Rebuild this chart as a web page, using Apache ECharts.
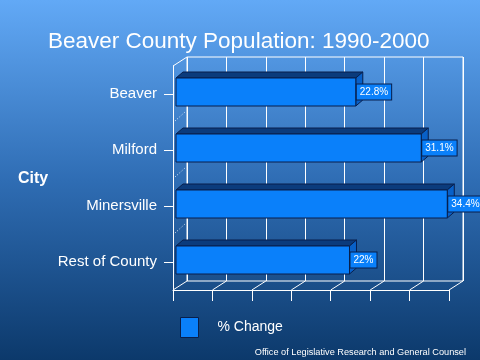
<!DOCTYPE html>
<html>
<head>
<meta charset="utf-8">
<script src="https://cdn.jsdelivr.net/npm/echarts@6/dist/echarts.min.js"></script>
<style>
  html, body { margin: 0; padding: 0; }
  #chart { width: 480px; height: 360px; }
</style>
</head>
<body>
<div id="chart"></div>
<script>
// data
let cities = ['Beaver', 'Milford', 'Minersville', 'Rest of County'];
let changes = [22.8, 31.1, 34.4, 22];
let ticks = [0, 5, 10, 15, 20, 25, 30, 35];

// 3d look
let depth = [14, -9]; // front -> back wall
let barDepth = [7, -6];
let font = "'Liberation Sans', Arial, sans-serif";

let chart = echarts.init(document.getElementById('chart'));

// bar with top + side faces and a boxed label
function renderBar(params, api) {
    let i = api.value(1);
    let v = api.value(0);
    let start = api.coord([0, i]);
    let end = api.coord([v, i]);
    let h = api.size([0, 1])[1] * 0.5;
    let yc = end[1] - 2; // bars sit a bit above the tick
    let x0 = start[0] + 3, x1 = end[0] + 3;
    let y0 = yc - h / 2, y1 = yc + h / 2;
    let dx = barDepth[0], dy = barDepth[1];
    let edge = '#081f4c';
    return {
        type: 'group',
        children: [
            {
                type: 'polygon',
                shape: { points: [[x0, y0], [x1, y0], [x1 + dx, y0 + dy], [x0 + dx, y0 + dy]] },
                style: { fill: '#0b3b7c', stroke: edge, lineWidth: 1 }
            },
            {
                type: 'polygon',
                shape: { points: [[x1, y0], [x1 + dx, y0 + dy], [x1 + dx, y1 + dy], [x1, y1]] },
                style: { fill: '#0860c8', stroke: edge, lineWidth: 1 }
            },
            {
                type: 'rect',
                shape: { x: x0, y: y0, width: x1 - x0, height: y1 - y0 },
                style: { fill: '#0a80fa', stroke: edge, lineWidth: 1 }
            },
            {
                type: 'text',
                style: {
                    text: v + '%',
                    x: x1 + 1,
                    y: yc,
                    align: 'left',
                    verticalAlign: 'middle',
                    fill: '#fff',
                    fontSize: 10,
                    fontFamily: font,
                    backgroundColor: '#0a80fa',
                    borderColor: edge,
                    borderWidth: 1,
                    padding: [3, 3, 2, 3]
                }
            }
        ]
    };
}

// floor lines from the front ticks to the back wall
function renderFloor(params, api) {
    let v = api.value(0);
    let p = api.coord([v, cities.length - 1]);
    let y = p[1] + api.size([0, 1])[1] / 2;
    return {
        type: 'line',
        shape: { x1: p[0], y1: y, x2: p[0] + depth[0], y2: y + depth[1] },
        style: { stroke: '#fff', lineWidth: 1 }
    };
}

// left wall: top edge and dotted dividers between categories
function renderWall(params, api) {
    let i = api.value(0);
    let p = api.coord([0, i]);
    let y = p[1] - api.size([0, 1])[1] / 2;
    if (i === 0) {
        return {
            type: 'line',
            shape: { x1: p[0], y1: y, x2: p[0] + depth[0], y2: y + depth[1] },
            style: { stroke: '#fff', lineWidth: 1 }
        };
    }
    return {
        type: 'line',
        shape: { x1: p[0] + 2, y1: y - 1, x2: p[0] + 12, y2: y - 10 },
        style: { stroke: '#fff', lineWidth: 1, lineDash: [1, 2], opacity: 0.85 }
    };
}

let options = {
    backgroundColor: new echarts.graphic.LinearGradient(0, 0, 0, 1, [
        { offset: 0, color: '#62a9f6' },
        { offset: 0.5, color: '#2f6db4' },
        { offset: 1, color: '#0c396b' }
    ]),
    animation: false,
    title: {
        text: 'Beaver County Population: 1990-2000',
        left: 43,
        top: 25,
        textStyle: { color: '#fff', fontSize: 22.5, fontWeight: 'normal', fontFamily: font }
    },
    legend: {
        data: ['% Change'],
        left: 180,
        top: 317,
        padding: 0,
        icon: 'rect',
        itemWidth: 18,
        itemHeight: 20,
        itemStyle: { borderColor: '#081f4c', borderWidth: 1 },
        textStyle: { color: '#fff', fontSize: 14, fontFamily: font, padding: [0, 0, 0, 14] }
    },
    graphic: [
        {
            type: 'text', left: 18, top: 171,
            style: { text: 'City', fill: '#fff', fontSize: 16, fontWeight: 'bold', fontFamily: font }
        },
        {
            type: 'text', right: 14, top: 348,
            style: { text: 'Office of Legislative Research and General Counsel', fill: '#fff', fontSize: 9.2, fontFamily: font }
        }
    ],
    grid: [
        { left: 173, right: 31, top: 66, bottom: 70 },
        {
            left: 173 + depth[0], right: 31 - depth[0], top: 66 + depth[1], bottom: 70 - depth[1],
            show: true, borderColor: '#fff', borderWidth: 1, backgroundColor: 'transparent', z: 0
        }
    ],
    xAxis: [
        {
            type: 'value', gridIndex: 0, min: 0, max: 35, interval: 5,
            axisLine: { show: true, lineStyle: { color: '#fff' } },
            axisTick: { show: true, length: 11, lineStyle: { color: '#fff' } },
            axisLabel: { show: false },
            splitLine: { show: false }
        },
        {
            type: 'value', gridIndex: 1, min: 0, max: 35, interval: 5,
            axisLine: { show: false },
            axisTick: { show: false },
            axisLabel: { show: false },
            splitLine: { show: true, lineStyle: { color: '#fff', width: 1 } }
        }
    ],
    yAxis: [
        {
            type: 'category', gridIndex: 0, data: cities, inverse: true,
            axisLine: { show: true, lineStyle: { color: '#fff' } },
            axisTick: { show: true, length: 9, alignWithLabel: true, lineStyle: { color: '#fff' } },
            axisLabel: { color: '#fff', fontSize: 15, fontFamily: font, margin: 16, padding: [5, 0, 0, 0] }
        },
        {
            type: 'category', gridIndex: 1, data: cities, inverse: true, show: false
        }
    ],
    series: [
        {
            name: 'wall',
            type: 'custom',
            xAxisIndex: 0, yAxisIndex: 0,
            data: cities.map((c, i) => [i]),
            encode: { x: -1, y: 0 },
            renderItem: renderWall,
            silent: true,
            z: 1
        },
        {
            name: 'floor',
            type: 'custom',
            xAxisIndex: 0, yAxisIndex: 0,
            data: ticks.map(t => [t]),
            encode: { x: 0, y: -1 },
            renderItem: renderFloor,
            silent: true,
            z: 1
        },
        {
            name: '% Change',
            type: 'custom',
            xAxisIndex: 0, yAxisIndex: 0,
            data: changes.map((v, i) => [v, i]),
            encode: { x: 0, y: 1 },
            renderItem: renderBar,
            itemStyle: { color: '#0a80fa' },
            z: 3
        }
    ]
};
chart.setOption(options);
</script>
</body>
</html>
